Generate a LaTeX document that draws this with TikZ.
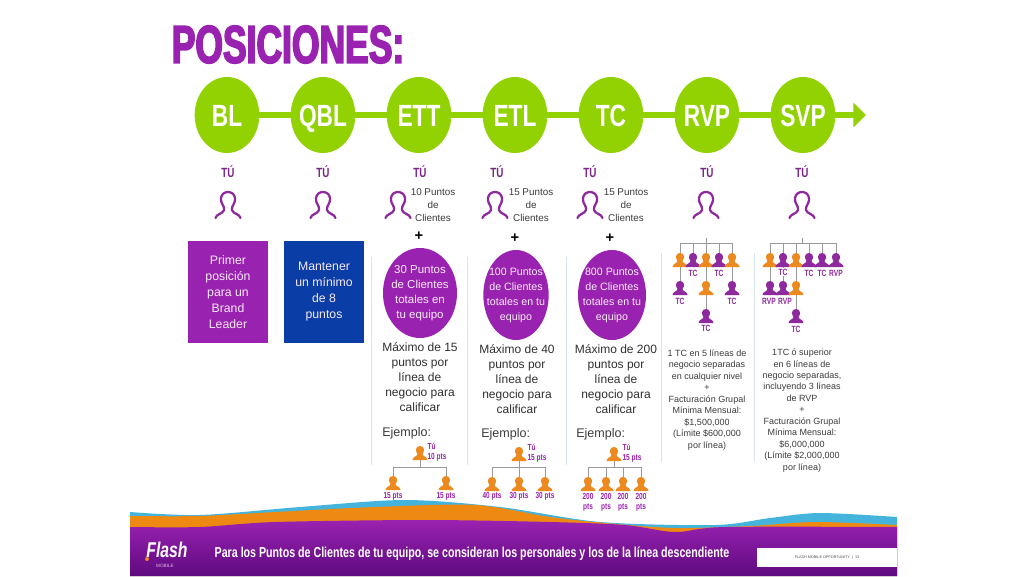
\documentclass[tikz,border=0pt]{standalone}
\usepackage{fontspec}
\setmainfont{Liberation Sans}
\newfontfamily\condfont[FakeStretch=0.74]{Liberation Sans}
\newfontfamily\titlefont[FakeStretch=0.665,FakeBold=3]{Liberation Sans}
\usetikzlibrary{arrows.meta, shapes.geometric, positioning}
\definecolor{stagegreen}{HTML}{93D202}
\definecolor{mainpurple}{HTML}{9A22B0}
\definecolor{manpurple}{HTML}{8E2A9E}
\definecolor{manorange}{HTML}{EC8A1F}
\definecolor{boxblue}{HTML}{0B3DA6}
\definecolor{sepblue}{HTML}{D6E5ED}
\definecolor{bodygray}{HTML}{3C3C3C}
\definecolor{wavesky}{HTML}{45B4DC}
\definecolor{waveorange}{HTML}{EE8A12}
\definecolor{wavedeep}{HTML}{5E0A80}
\tikzset{
  stage/.style={ellipse,fill=stagegreen,minimum width=48.5pt,minimum height=57pt,inner sep=-8pt,
    text height=16.5pt,text depth=0pt,text=white,font=\condfont\fontsize{23}{23}\selectfont\bfseries},
  stage line/.style={line width=5.2pt,draw=stagegreen,shorten <=-3pt,shorten >=-3pt},
  you/.style={text=manpurple!85!black,font=\condfont\fontsize{10}{10}\selectfont\bfseries},
  outline man/.pic={
    \draw[manpurple,line width=1.7pt,line cap=round]
      (-12.5,13) .. controls (-12,9) and (-5,9) .. (-4,5) .. controls (-3,1) and (-8,-2) .. (-7,-7)
      .. controls (-6,-15) and (6,-15) .. (7,-7) .. controls (8,-2) and (3,1) .. (4,5)
      .. controls (5,9) and (12,9) .. (12.5,13);},
  man/.pic={
    \path[pic actions] (-7.5,7) .. controls (-7.5,3.5) and (-2.6,3.5) .. (-2.6,1)
      .. controls (-4.8,-2) and (-4.5,-7) .. (0,-7) .. controls (4.5,-7) and (4.8,-2) .. (2.6,1)
      .. controls (2.6,3.5) and (7.5,3.5) .. (7.5,7) -- cycle;},
  puntos/.style={text=bodygray,align=center,font=\fontsize{7.4}{9.9}\selectfont},
  plus/.style={text=black,font=\fontsize{11}{11}\selectfont\bfseries},
  first box/.style={fill=#1,minimum width=60pt,minimum height=76.5pt,inner sep=0pt,align=center,
    text=white!90!mainpurple,font=\fontsize{9.2}{12}\selectfont},
  team/.style={ellipse,fill=mainpurple,minimum width=55.5pt,minimum height=67.5pt,inner sep=-12pt,align=center,
    text=white!92!mainpurple,font=\fontsize{8.6}{11.25}\selectfont},
  team small/.style={team,minimum width=#1,font=\fontsize{8}{11.25}\selectfont},
  maxim/.style={text=bodygray!80!black,align=center,font=\fontsize{9}{11.25}\selectfont},
  ejemplo/.style={text=bodygray,anchor=west,inner sep=0pt,font=\fontsize{9.4}{11}\selectfont},
  pts/.style={text=mainpurple,align=center,font=\condfont\fontsize{6.6}{7.5}\selectfont\bfseries},
  tc/.style={text=manpurple,inner sep=.5pt,fill=white,font=\condfont\fontsize{6.8}{8}\selectfont\bfseries},
  req/.style={text=bodygray,align=center,font=\fontsize{6.75}{8.6}\selectfont},
  tree line/.style={draw=black!40,line width=.7pt},
  sep/.style={draw=sepblue,line width=.7pt},
}
\begin{document}
\begin{tikzpicture}[x=.75pt,y=-.75pt,node distance=72pt]
  \useasboundingbox (0,0) rectangle (1024,576);
  \fill[white] (0,0) rectangle (1024,576);

  % title
  \node[text=mainpurple,font=\titlefont\fontsize{40}{40}\selectfont\bfseries] (title) at (288,44.5) {POSICIONES:};

  % stages
  \node[stage] (BL) at (227,115) {BL};
  \node[stage,right of=BL] (QBL) {QBL};
  \node[stage,right of=QBL] (ETT) {ETT};
  \node[stage,right of=ETT] (ETL) {ETL};
  \node[stage,right of=ETL] (TC) {TC};
  \node[stage,right of=TC] (RVP) {RVP};
  \node[stage,right of=RVP] (SVP) {SVP};
  \coordinate (end) at (866,115);
  \foreach \s/\t in {BL/QBL, QBL/ETT, ETT/ETL, ETL/TC, TC/RVP, RVP/SVP} {
    \draw[stage line] (\s) -- (\t);}
  \draw[stage line,shorten >=0pt,-{Triangle[length=9.5pt,width=18pt]}] (SVP) -- (end);

  % you + outline men
  \foreach \n/\x/\m in {a/228/228, b/323/323, c/420/398, d/497/495, e/590/590, f/707/706, g/802/802} {
    \node[you] (tu\n) at (\x,172) {TÚ};
    \pic at (\m,205) {outline man};}
  \node[puntos] (ptsa) at (433,205) {10 Puntos\\de\\Clientes};
  \node[puntos] (ptsb) at (531,205) {15 Puntos\\de\\Clientes};
  \node[puntos] (ptsc) at (626,205) {15 Puntos\\de\\Clientes};
  \node[plus] (plusa) at (419,236) {+};
  \node[plus] (plusb) at (515,238) {+};
  \node[plus] (plusc) at (610,238) {+};

  % first two boxes
  \node[first box=mainpurple] (boxa) at (228,292) {Primer\\posición\\para un\\Brand\\Leader};
  \node[first box=boxblue] (boxb) at (324,292) {Mantener\\un mínimo\\de 8\\puntos};

  % separators
  \foreach \x/\a/\b in {371/257/465, 467/257/465, 566/257/465, 661/253/462, 754/253/462} {
    \draw[sep] (\x,\a) -- (\x,\b);}

  % team ellipses
  \node[team] (teama) at (420,293) {30 Puntos\\de Clientes\\totales en\\tu equipo};
  \node[team small=49pt] (teamb) at (516,295) {100 Puntos\\de Clientes\\totales en tu\\equipo};
  \node[team small=51pt] (teamc) at (612,295) {800 Puntos\\de Clientes\\totales en tu\\equipo};

  \node[maxim] (maxa) at (420,377) {Máximo de 15\\puntos por\\línea de\\negocio para\\calificar};
  \node[maxim] (maxb) at (517,379) {Máximo de 40\\puntos por\\línea de\\negocio para\\calificar};
  \node[maxim] (maxc) at (616,379) {Máximo de 200\\puntos por\\línea de\\negocio para\\calificar};
  \node[ejemplo] (ejea) at (382,433) {Ejemplo:};
  \node[ejemplo] (ejeb) at (481,434) {Ejemplo:};
  \node[ejemplo] (ejec) at (576,434) {Ejemplo:};

  % men of the trees
  \def\men{
    ra/420/453/manorange, aa/393/483/manorange, ab/446/483/manorange,
    rb/519/454/manorange, ba/492/484/manorange, bb/519/484/manorange, bc/545/484/manorange,
    rc/614/454/manorange, ca/588/484/manorange, cb/606/484/manorange, cc/623/484/manorange, cd/641/484/manorange,
    da/680/260/manorange, db/693/260/manpurple, dc/706/260/manorange, dd/719/260/manpurple, de/732/260/manorange,
    df/680/288/manpurple, dg/706/288/manorange, dh/732/288/manpurple, di/706/316/manpurple,
    ea/770/260/manorange, eb/783/260/manpurple, ec/796/260/manorange, ed/809/260/manpurple, ee/822/260/manpurple, ef/836/260/manpurple,
    eg/770/288/manpurple, eh/783/288/manpurple, ei/796/288/manorange, ej/796/316/manpurple}
  \foreach \n/\x/\y/\c in \men {\coordinate (\n) at (\x,\y);}
  \coordinate (bara) at (420,467);
  \coordinate (barb) at (519,467);
  \coordinate (barc) at (614,467);
  \coordinate (bard) at (706,243);
  \coordinate (bare) at (802,243);
  \coordinate (topd) at (706,238);
  \coordinate (tope) at (802,238);

  \draw[tree line] (ra) -- (bara);
  \draw[tree line] (rb) -- (barb);
  \draw[tree line] (rc) -- (barc);
  \draw[tree line] (topd) -- (bard);
  \draw[tree line] (tope) -- (bare);
  \foreach \s/\t in {aa/bara, ab/bara, ba/barb, bb/barb, bc/barb, ca/barc, cb/barc, cc/barc, cd/barc,
    da/bard, db/bard, dc/bard, dd/bard, de/bard, ea/bare, eb/bare, ec/bare, ed/bare, ee/bare, ef/bare} {
    \draw[tree line] (\s) |- (\t);}
  \foreach \s/\t in {da/df, dc/dg, dg/di, de/dh, ea/eg, eb/eh, ec/ei, ei/ej} {
    \draw[tree line] (\s) -- (\t);}
  \foreach \n/\x/\y/\c in \men {\pic[fill=\c] at (\n) {man};}

  % tree labels
  \node[pts,align=left] (lra) at (437,452) {Tú\\10 pts};
  \node[pts,align=left] (lrb) at (537,453) {Tú\\15 pts};
  \node[pts,align=left] (lrc) at (632,453) {Tú\\15 pts};
  \foreach \n/\x/\t in {aa/393/15 pts, ab/446/15 pts, ba/492/40 pts, bb/519/30 pts, bc/545/30 pts} {
    \node[pts] (l\n) at (\x,496) {\t};}
  \foreach \n/\x in {ca/588, cb/606, cc/623, cd/641} {
    \node[pts] (l\n) at (\x,502) {200\\pts};}
  \foreach \n/\x/\y/\t in {db/693/273/TC, dd/719/273/TC, df/680/301/TC, dh/732/301/TC, di/706/328/TC,
    eb/783/272/TC, ed/809/273/TC, ee/822/273/TC, ef/836/273/RVP, eg/769/301/RVP, eh/785/301/RVP, ej/796/329/TC} {
    \node[tc] (l\n) at (\x,\y) {\t};}

  % requirements
  \node[req] (reqd) at (707,400) {1 TC en 5 líneas de\\negocio separadas\\en cualquier nivel\\+\\Facturación Grupal\\Mínima Mensual:\\\$1,500,000\\(Límite \$600,000\\por línea)};
  \node[req] (reqe) at (802,410.5) {1TC ó superior\\en 6 líneas de\\negocio separadas,\\incluyendo 3 líneas\\de RVP\\+\\Facturación Grupal\\Mínima Mensual:\\\$6,000,000\\(Límite \$2,000,000\\por línea)};

  % bottom band
  \fill[wavesky] (130,576) -- plot[smooth] coordinates {(130,512) (200,515) (300,507) (405,500) (500,507) (600,522) (715,525) (770,518) (820,513) (897,517)} -- (897,576) -- cycle;
  \fill[waveorange] (130,576) -- plot[smooth] coordinates {(130,516) (200,516) (275,512) (375,507) (475,505) (550,517) (605,523) (675,528) (750,526) (815,522) (897,525)} -- (897,576) -- cycle;
  \shade[top color=mainpurple,bottom color=wavedeep] (130,576) -- plot[smooth] coordinates {(130,527) (200,527) (275,522) (425,520) (550,522) (625,525) (675,532) (725,527) (897,527)} -- (897,576) -- cycle;

  % footer
  \node[text=white,font=\condfont\fontsize{10.8}{12}\selectfont\bfseries] (foot) at (472,554) {Para los Puntos de Clientes de tu equipo, se consideran los personales y los de la línea descendiente};
  \node[fill=white,minimum width=105pt,minimum height=14pt,inner sep=0pt] (tag) at (827,557.5) {};
  \node[text=black!70,font=\fontsize{2.8}{3}\selectfont] (tagtext) at (tag) {FLASH MOBILE OPPORTUNITY \ | \ 13};
  \node[text=white,font=\condfont\fontsize{16}{16}\selectfont\bfseries\itshape,inner sep=0pt] (logo) at (167,550) {Flash};
  \node[circle,fill=manorange,minimum size=3pt,inner sep=0pt] (logodot) at (147,559) {};
  \node[text=white!70!mainpurple,font=\fontsize{3.5}{4}\selectfont,inner sep=0pt] (logob) at (165,566) {MOBILE};
\end{tikzpicture}
\end{document}
